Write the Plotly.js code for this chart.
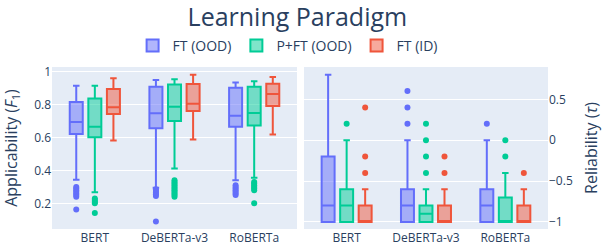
<!DOCTYPE html>
<html>
<head>
<meta charset="utf-8">
<script src="https://cdn.plot.ly/plotly-3.0.1.min.js"></script>
<style>html,body{margin:0;padding:0;background:#fff;}</style>
</head>
<body>
<div id="chart" style="width:602px;height:246px;"></div>
<script>
const models = ['BERT', 'DeBERTa-v3', 'RoBERTa'];
const seriesNames = ['FT (OOD)', 'P+FT (OOD)', 'FT (ID)'];
const seriesColors = ['#636efa', '#00cc96', '#ef553b'];

// Applicability (F1)
const appFtOodQ1 = [0.622, 0.657, 0.665];
const appFtOodMedian = [0.695, 0.748, 0.733];
const appFtOodQ3 = [0.816, 0.909, 0.903];
const appFtOodLower = [0.343, 0.295, 0.341];
const appFtOodUpper = [0.915, 0.950, 0.935];
const appFtOodOutliers = [[0.30, 0.29, 0.28, 0.27, 0.26, 0.25, 0.24, 0.162], [0.285, 0.275, 0.265, 0.255, 0.245, 0.09], [0.31, 0.30, 0.29, 0.28, 0.27, 0.26, 0.25]];

const appPftOodQ1 = [0.602, 0.700, 0.673];
const appPftOodMedian = [0.665, 0.788, 0.750];
const appPftOodQ3 = [0.838, 0.923, 0.909];
const appPftOodLower = [0.267, 0.412, 0.356];
const appPftOodUpper = [0.915, 0.955, 0.943];
const appPftOodOutliers = [[0.23, 0.22, 0.21, 0.20, 0.141], [0.34, 0.33, 0.32, 0.31, 0.30, 0.29, 0.28, 0.27, 0.26, 0.25, 0.24], [0.33, 0.32, 0.31, 0.30, 0.29, 0.28, 0.20]];

const appFtIdQ1 = [0.743, 0.762, 0.792];
const appFtIdMedian = [0.784, 0.806, 0.865];
const appFtIdQ3 = [0.895, 0.925, 0.927];
const appFtIdLower = [0.582, 0.588, 0.618];
const appFtIdUpper = [0.960, 0.982, 0.968];
const appFtIdOutliers = [[], [], []];

// Reliability (tau)
const relFtOodQ1 = [-1, -1, -1];
const relFtOodMedian = [-0.8, -0.8, -0.8];
const relFtOodQ3 = [-0.2, -0.6, -0.6];
const relFtOodLower = [-1, -1, -1];
const relFtOodUpper = [0.8, 0, 0];
const relFtOodOutliers = [[], [0.6, 0.4, 0.2], [0.2]];

const relPftOodQ1 = [-1, -1, -1];
const relPftOodMedian = [-0.8, -0.9, -1];
const relPftOodQ3 = [-0.6, -0.8, -0.7];
const relPftOodLower = [-1, -1, -1];
const relPftOodUpper = [0, -0.6, -0.4];
const relPftOodOutliers = [[0.2], [0.2, 0, -0.2, -0.4], [0, -0.2]];

const relFtIdQ1 = [-1, -1, -1];
const relFtIdMedian = [-1, -1, -1];
const relFtIdQ3 = [-0.8, -0.8, -0.8];
const relFtIdLower = [-1, -1, -1];
const relFtIdUpper = [-0.6, -0.6, -0.6];
const relFtIdOutliers = [[0.4, -0.2, -0.4], [-0.2, -0.4], [-0.4]];

const appStats = [
  [appFtOodQ1, appFtOodMedian, appFtOodQ3, appFtOodLower, appFtOodUpper, appFtOodOutliers],
  [appPftOodQ1, appPftOodMedian, appPftOodQ3, appPftOodLower, appPftOodUpper, appPftOodOutliers],
  [appFtIdQ1, appFtIdMedian, appFtIdQ3, appFtIdLower, appFtIdUpper, appFtIdOutliers]
];
const relStats = [
  [relFtOodQ1, relFtOodMedian, relFtOodQ3, relFtOodLower, relFtOodUpper, relFtOodOutliers],
  [relPftOodQ1, relPftOodMedian, relPftOodQ3, relPftOodLower, relPftOodUpper, relPftOodOutliers],
  [relFtIdQ1, relFtIdMedian, relFtIdQ3, relFtIdLower, relFtIdUpper, relFtIdOutliers]
];

function makeBox(s, stats, xa, ya, showLegend, group) {
  // each box also carries its median as a sample so no sample row is empty
  const samples = stats[5].map((row, i) => [stats[1][i]].concat(row));
  return {
    type: 'box',
    name: seriesNames[s],
    legendgroup: seriesNames[s],
    showlegend: showLegend,
    alignmentgroup: group,
    offsetgroup: 'g' + s,
    x: models,
    y: samples,
    q1: stats[0], median: stats[1], q3: stats[2],
    lowerfence: stats[3], upperfence: stats[4],
    boxpoints: 'outliers', jitter: 0, pointpos: 0,
    marker: {color: seriesColors[s], size: 6},
    line: {color: seriesColors[s], width: 2},
    xaxis: xa, yaxis: ya
  };
}

const data = [];
for (let s = 0; s < 3; s++) data.push(makeBox(s, appStats[s], 'x', 'y', true, 'app'));
for (let s = 0; s < 3; s++) data.push(makeBox(s, relStats[s], 'x2', 'y2', false, 'rel'));

const axisFont = {family: '"Open Sans", sans-serif', size: 12, color: '#2a3f5f'};
const layout = {
  width: 602, height: 246,
  margin: {l: 52, r: 54, t: 67, b: 17},
  paper_bgcolor: '#fff', plot_bgcolor: '#E5ECF6',
  font: {family: '"Open Sans", sans-serif', size: 12, color: '#2a3f5f'},
  title: {text: 'Learning Paradigm', x: 0.494, xanchor: 'center', y: 1 - 17/246, yanchor: 'middle', yref: 'container',
          font: {size: 25, color: '#2a3f5f'}},
  boxmode: 'group',
  legend: {orientation: 'h', x: 0.475, xanchor: 'center', y: 1.13, yanchor: 'middle', font: {size: 14}, bgcolor: 'rgba(0,0,0,0)'},
  xaxis: {domain: [0, 0.494], type: 'category', showgrid: false, zeroline: false, tickfont: axisFont, ticks: ''},
  xaxis2: {domain: [0.508, 1], type: 'category', showgrid: false, zeroline: false, tickfont: axisFont, anchor: 'y2', ticks: ''},
  yaxis: {range: [0.044, 1.029], dtick: 0.2, gridcolor: '#fff', zeroline: false, tickfont: axisFont,
          title: {text: 'Applicability (<i>F</i><sub>1</sub>)', font: {size: 16}}},
  yaxis2: {range: [-1.086, 0.895], dtick: 0.5, gridcolor: '#fff', zerolinecolor: '#fff', zerolinewidth: 1, side: 'right', anchor: 'x2',
           tickfont: axisFont, title: {text: 'Reliability (<i>τ</i>)', font: {size: 16}}}
};

Plotly.newPlot('chart', data, layout, {displayModeBar: false, staticPlot: true});
</script>
</body>
</html>
